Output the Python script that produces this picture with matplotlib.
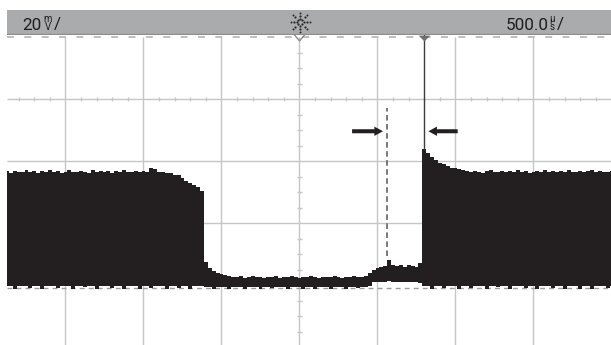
import numpy as np
import matplotlib
matplotlib.use("Agg")
import matplotlib.pyplot as plt
from matplotlib.patches import FancyArrow, Rectangle

# ---------------- data ----------------
volt_label = "20"          # 20 mV / div
time_label = "500.0"       # 500.0 µs / div
t_start = -1875            # µs, first sample
t_step = 25                # µs between samples

# upper envelope of the trace (mV)
v_top = [
    36.8, 36.2, 36.9, 36.4, 36.6, 37.0, 36.3, 36.7, 36.1, 36.9,
    36.5, 37.1, 36.4, 36.8, 36.2, 36.6, 37.0, 36.5, 36.3, 36.9,
    36.6, 36.2, 37.2, 36.5, 36.8, 36.4, 36.7, 36.1, 36.9, 36.5,
    37.0, 36.3, 36.6, 36.8, 36.4, 36.7, 36.3, 37.6,
    37.3, 36.6, 36.3, 36.0, 36.2, 35.6, 35.4, 34.5, 33.6, 33.0, 32.2, 31.5, 30.2,
    7.5, 5.4, 4.4, 3.9, 3.5, 3.2, 3.0,
    2.7, 2.5, 2.8, 2.4, 2.6, 2.9, 2.5, 2.6, 2.3, 2.7,
    2.6, 2.8, 2.4, 2.6, 2.5, 2.9, 2.6, 2.4, 2.7, 2.5,
    2.8, 2.6, 2.3, 2.6, 2.7, 2.5, 2.9, 2.6, 2.4, 2.7,
    2.6, 2.8, 2.5, 2.7,
    3.0, 3.9, 4.7, 5.4, 5.8, 6.0, 8.2, 6.3, 6.0, 6.4, 5.9, 6.6, 6.2, 5.8, 7.0,
    44.0, 42.6, 41.2, 40.3, 39.5, 39.0, 38.4, 37.9, 37.6, 37.3, 37.0,
    36.8, 36.4, 36.9, 36.5, 36.2, 36.7, 37.0, 36.4, 36.6, 36.9,
    36.3, 36.7, 36.5, 37.1, 36.4, 36.8, 36.2, 36.6, 36.9, 36.5,
    37.0, 36.3, 36.7, 36.5, 36.8, 36.4, 37.1, 36.6, 36.3, 36.9,
    36.5, 36.7, 37.0, 36.4, 36.8, 36.6, 36.5, 36.9,
]

# lower envelope of the trace (mV)
v_bot = [
    -0.4, -0.4, -1.3, -0.4, -0.4, -0.4, -0.9, -0.4, -0.4, -1.4,
    -0.4, -0.4, -0.4, -1.0, -0.4, -0.4, -0.4, -1.3, -0.4, -0.4,
    -0.8, -0.4, -0.4, -1.4, -0.4, -0.4, -0.4, -0.9, -0.4, -0.4,
    -1.2, -0.4, -0.4, -0.4, -1.4, -0.4, -0.4, -0.9, -0.4, -0.4,
    -0.4, -1.3, -0.4, -0.4, -1.0, -0.4, -0.4, -1.4, -0.4, -0.4,
    -0.4,
    -0.8, -0.8, -1.3, -0.8, -0.8, -0.8, -1.4, -0.8, -0.8, -0.8,
    -1.2, -0.8, -0.8, -0.8, -1.4, -0.8, -0.8, -1.0, -0.8, -0.8,
    -0.8, -1.4, -0.8, -0.8, -0.8, -1.2, -0.8, -0.8, -1.4, -0.8,
    -0.8, -0.8, -1.3, -0.8, -0.8, -0.8, -1.4, -0.8, -0.8, -1.0,
    -0.8, -0.6,
    -0.3,
    1.0, 1.1, 0.9, 1.0, 1.2, 0.9, 1.0, 1.1, 0.9, 1.0, 1.1, 1.0,
    0.5,
    -0.4, -0.4, -1.3, -0.4, -0.4, -0.9, -0.4, -0.4, -0.4, -1.4,
    -0.4, -0.4, -1.0, -0.4, -0.4, -0.4, -1.3, -0.4, -0.4, -0.8,
    -0.4, -0.4, -1.4, -0.4, -0.4, -0.4, -1.1, -0.4, -0.4, -1.3,
    -0.4, -0.4, -0.4, -0.9, -0.4, -0.4, -1.4, -0.4, -0.4, -0.4,
    -1.2, -0.4, -0.4, -1.3, -0.4, -0.4, -0.4, -1.0, -0.4,
]

trigger_t = 800            # µs
trigger_peak_v = 44.0      # mV
cursor_t = 559             # µs
cursor_v = [9.5, 57.0]     # mV
arrow_v = 49.6             # mV
arrow_right = [337, 535]   # µs (tail, tip)
arrow_left = [1014, 826]   # µs (tail, tip)
ground_v = -1.1            # mV
grid_t = [-1500, -1000, -500, 0, 500, 1000, 1500]
grid_v = [20, 40, 60]
top_grid_v = 80

# ---------------- figure ----------------
plt.rcParams["lines.scale_dashes"] = False
fam, big = "Roboto", 12.3

W, H = 611, 345
fig = plt.figure(figsize=(W / 100, H / 100), dpi=100)
fig.patch.set_facecolor("white")

# main screen axes (pixel x 7..611, y 35..345)
ax = fig.add_axes([7 / W, 0, 604 / W, 310 / H])
xlo, xhi = -1875, 1996.8
ylo, yhi = -19.35, 80.65
ax.set_xlim(xlo, xhi)
ax.set_ylim(ylo, yhi)
ax.set_axis_off()

gcol = "#c6c6c6"
ax.vlines(grid_t, ylo, top_grid_v, color=gcol, lw=1.0, zorder=1)
ax.hlines(grid_v, xlo, xhi, color=gcol, lw=1.0, zorder=1)
ax.plot([xlo, xhi], [top_grid_v, top_grid_v], color="#b4b4b4", lw=1.2,
        dashes=(5, 7.5), zorder=1)

# minor ticks on the centre axes
tick_v = [v for v in np.arange(-15, 80, 5) if v % 20 != 0]
ax.hlines(tick_v, -14, 14, color=gcol, lw=1.0, zorder=1)
tick_t = [t for t in np.arange(-1800, 2000, 100) if t % 500 != 0]
ax.vlines(tick_t, 60 - 0.7, 60 + 0.7, color=gcol, lw=1.0, zorder=1)

# ground reference
ax.plot([xlo, xhi], [ground_v, ground_v], color="#9c9c9c", lw=1.0,
        dashes=(3.5, 3), zorder=1.5)

# trace
t = t_start + t_step * np.arange(len(v_top))
ax.fill_between(t, v_bot, v_top, step="mid", color="#231f20", lw=0, zorder=2)

# trigger line + markers
ax.plot([trigger_t, trigger_t], [trigger_peak_v, yhi], color="#3c3c3c",
        lw=1.0, zorder=3)
tri = [(-1, 0.5), (1, 0.5), (0, -0.5)]
ax.scatter([trigger_t], [yhi - 1.0], marker=tri, s=70, color="#6e6e6e",
           lw=0, zorder=4, clip_on=False)
ax.plot([-32, 0, 32], [yhi, yhi - 1.9, yhi], color="#8a8a8a", lw=1.0,
        zorder=4, clip_on=False)

# cursor
ax.plot([cursor_t, cursor_t], cursor_v, color="#555555", lw=1.1,
        dashes=(4, 2.5), zorder=3)

# arrows
for tail, tip in (arrow_right, arrow_left):
    ax.add_patch(FancyArrow(tail, arrow_v, tip - tail, 0, width=1.3,
                            head_width=3.0, head_length=55,
                            length_includes_head=True, color="#231f20",
                            lw=0, zorder=4))

# header bar
hx = fig.add_axes([7 / W, 1 - 35 / H, 604 / W, 25.5 / H])
hx.set_xlim(7, 611)
hx.set_ylim(35, 9.5)
hx.set_axis_off()
hx.add_patch(Rectangle((7, 9.5), 604, 25.5, color="#aaabad", lw=0))
hx.plot([7, 611], [34.4, 34.4], color="#8e8e8e", lw=1.0)

tc = "#1e1e1e"
hx.text(22.5, 29.5, volt_label, fontsize=big, family=fam, color=tc,
        ha="left", va="baseline")
hx.text(47.5, 23.2, "m\nV", fontsize=7.0, family=fam, color=tc,
        ha="center", va="center", linespacing=0.75, multialignment="center")
hx.text(53.5, 29.5, "/", fontsize=big, family=fam, color=tc,
        ha="left", va="baseline")

hx.text(506, 29.5, time_label, fontsize=big, family=fam, color=tc,
        ha="left", va="baseline")
hx.text(552.5, 22.5, "µ\ns", fontsize=7.0, family=fam, color=tc,
        ha="center", va="center", linespacing=0.75, multialignment="center")
hx.text(556.5, 29.5, "/", fontsize=big, family=fam, color=tc,
        ha="left", va="baseline")

# sun icon
cx, cy = 300, 22
ang = np.deg2rad(np.arange(0, 360, 45))
for r, s in ((3.5, 2.5), (6.5, 2.5), (9.5, 2.0)):
    hx.scatter(cx + r * np.cos(ang), cy + r * np.sin(ang), s=s,
               color="#2a2a2a", lw=0)

fig.savefig("out.png", dpi=100, facecolor="white")
